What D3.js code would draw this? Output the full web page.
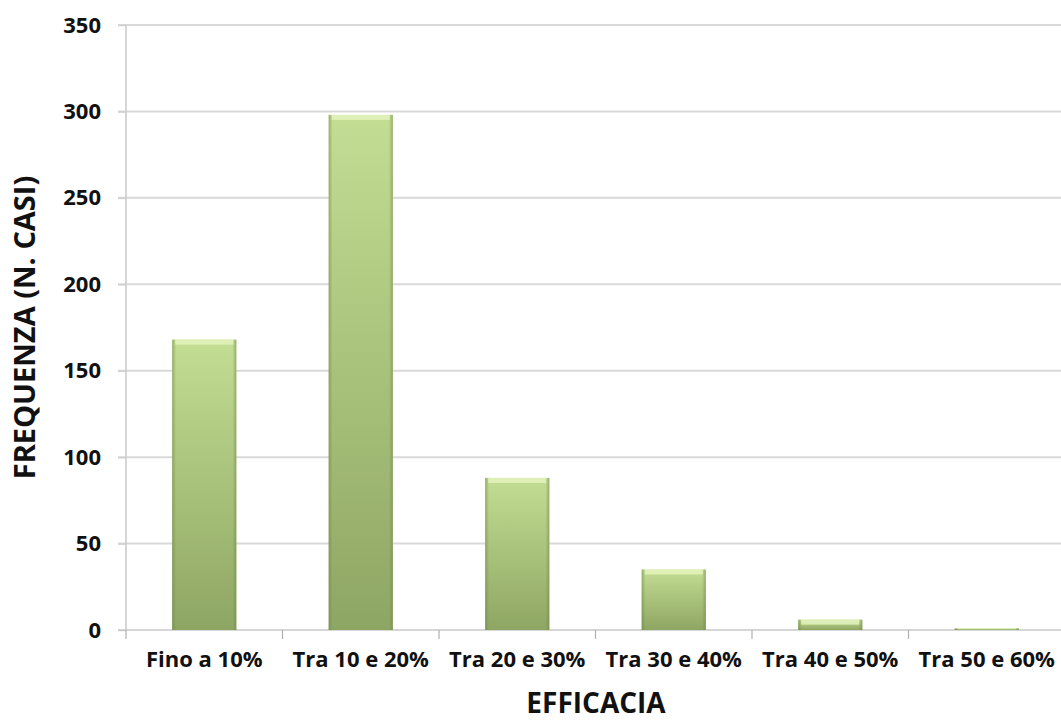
<!DOCTYPE html>
<html><head><meta charset="utf-8">
<script src="https://cdn.jsdelivr.net/npm/d3@7"></script>
<style>body{margin:0;background:#fff}svg{display:block}</style>
</head><body><div id="chart"></div>
<script>
const categories = ["Fino a 10%","Tra 10 e 20%","Tra 20 e 30%","Tra 30 e 40%","Tra 40 e 50%","Tra 50 e 60%"];
const values = [168, 298, 88, 35, 6, 1];
const yTicks = [0,50,100,150,200,250,300,350];
const yTitle = "FREQUENZA (N. CASI)";
const xTitle = "EFFICACIA";

const W = 1061, H = 722;
const m = {left:126, right:-4, top:25, bottom:92};
const svg = d3.select("#chart").append("svg").attr("width",W).attr("height",H);
const defs = svg.append("defs");
const g1 = defs.append("linearGradient").attr("id","barG").attr("x1",0).attr("y1",0).attr("x2",0).attr("y2",1);
g1.append("stop").attr("offset","0%").attr("stop-color","#c3dd93");
g1.append("stop").attr("offset","100%").attr("stop-color","#8ea663");
const g2 = defs.append("linearGradient").attr("id","sideG").attr("x1",0).attr("y1",0).attr("x2",1).attr("y2",0);
g2.append("stop").attr("offset","0%").attr("stop-color","#6f8748").attr("stop-opacity",0.55);
g2.append("stop").attr("offset","6%").attr("stop-color","#6f8748").attr("stop-opacity",0);
g2.append("stop").attr("offset","94%").attr("stop-color","#6f8748").attr("stop-opacity",0);
g2.append("stop").attr("offset","100%").attr("stop-color","#6f8748").attr("stop-opacity",0.55);

const x = d3.scaleBand().domain(categories).range([m.left, W - m.right]).paddingInner(0.59).paddingOuter(0.295);
const y = d3.scaleLinear().domain([0,350]).range([H - m.bottom, m.top]);

const font = "'Open Sans', Lato, sans-serif";

// gridlines
svg.append("g").selectAll("line").data(yTicks.filter(d=>d>0)).join("line")
  .attr("x1", m.left - 8).attr("x2", W).attr("y1", d=>y(d)).attr("y2", d=>y(d))
  .attr("stroke","#d9d9d9").attr("stroke-width",2);

// y axis
const ya = svg.append("g").attr("transform",`translate(${m.left},0)`)
  .call(d3.axisLeft(y).tickValues(yTicks).tickSize(8).tickPadding(17));
ya.select(".domain").attr("stroke","#c8c8c8").attr("stroke-width",1.5).attr("d",`M-0,${y(0)}V${y(350)}`);
ya.selectAll(".tick line").attr("stroke","#d0d0d0").attr("stroke-width",1.5);
ya.selectAll("text").attr("font-family",font).attr("font-weight","bold").attr("font-size",22).attr("fill","#111");

// x axis
const xa = svg.append("g").attr("transform",`translate(0,${y(0)})`)
  .call(d3.axisBottom(x).tickSize(0).tickPadding(21));
xa.select(".domain").remove();
xa.append("line").attr("x1",m.left-8).attr("x2",W).attr("y1",0).attr("y2",0).attr("stroke","#c8c8c8").attr("stroke-width",1.5);
const step = x.step();
const bounds = d3.range(categories.length).map(i => m.left + i*step);
xa.selectAll(".sep").data(bounds).join("line").attr("class","sep")
  .attr("x1",d=>d).attr("x2",d=>d).attr("y1",0).attr("y2",9).attr("stroke","#b0b0b0").attr("stroke-width",1.2);
xa.selectAll(".tick text").attr("font-family",font).attr("font-weight","bold").attr("font-size",22).attr("fill","#111");

// bars
const bars = svg.append("g").selectAll("g").data(values).join("g");
bars.append("rect").attr("x",(d,i)=>x(categories[i])).attr("y",d=>y(d))
  .attr("width",x.bandwidth()).attr("height",d=>y(0)-y(d)).attr("fill","url(#barG)");
bars.append("rect").attr("x",(d,i)=>x(categories[i])).attr("y",d=>y(d))
  .attr("width",x.bandwidth()).attr("height",d=>y(0)-y(d)).attr("fill","url(#sideG)");
bars.append("rect").attr("x",(d,i)=>x(categories[i])+3).attr("y",d=>y(d))
  .attr("width",x.bandwidth()-6).attr("height",d=>Math.min(5,(y(0)-y(d))/2)).attr("fill","#e6f5c0").attr("opacity",0.8);

// titles
svg.append("text").attr("x", 596).attr("y", 713)
  .attr("text-anchor","middle").attr("font-family",font).attr("font-weight","bold").attr("font-size",28).attr("fill","#111").text(xTitle);
svg.append("text").attr("transform",`translate(35,${(y(0)+y(350))/2}) rotate(-90)`)
  .attr("text-anchor","middle").attr("font-family",font).attr("font-weight","bold").attr("font-size",29).attr("fill","#111").text(yTitle);
</script></body></html>
